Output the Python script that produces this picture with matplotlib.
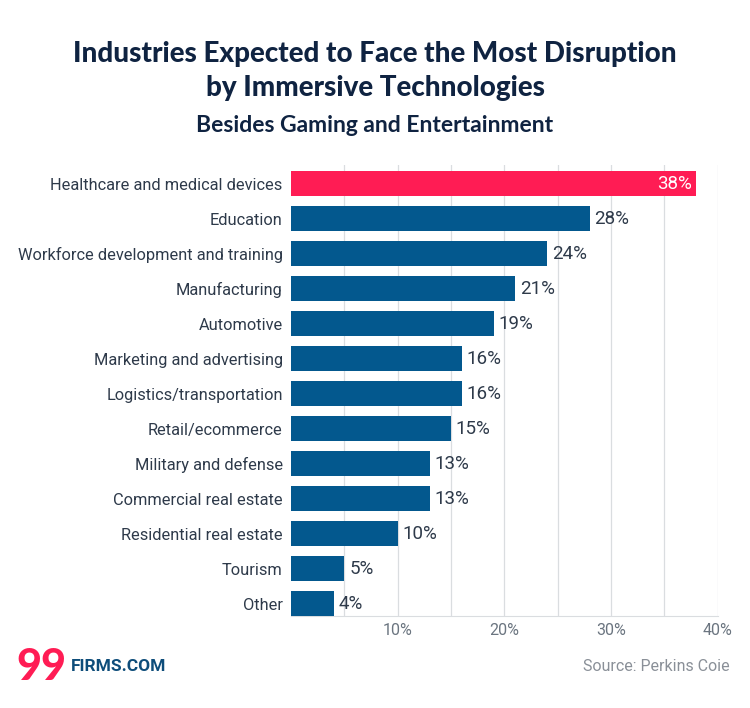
import matplotlib.pyplot as plt
import numpy as np

categories = [
    'Healthcare and medical devices',
    'Education',
    'Workforce development and training',
    'Manufacturing',
    'Automotive',
    'Marketing and advertising',
    'Logistics/transportation',
    'Retail/ecommerce',
    'Military and defense',
    'Commercial real estate',
    'Residential real estate',
    'Tourism',
    'Other',
]
values = [38, 28, 24, 21, 19, 16, 16, 15, 13, 13, 10, 5, 4]
tick_values = [10, 20, 30, 40]
tick_labels = ['10%', '20%', '30%', '40%']

red = '#FF1C54'
blue = '#03588E'
navy = '#0F2341'
text_col = '#2E3A4A'
grey = '#6B7580'

fig = plt.figure(figsize=(7.5, 7.08), dpi=100)
ax = fig.add_axes([0.388, 0.1299, 0.569, 0.637])

y = np.arange(len(categories))
colors = [red] + [blue] * (len(categories) - 1)
ax.barh(y, values, height=0.714, color=colors, zorder=3)

for i, v in enumerate(values):
    if i == 0:
        ax.text(v - 0.45, i, f'{v}%', ha='right', va='center', color='white',
                fontsize=13.5, family='Roboto', zorder=4)
    else:
        ax.text(v + 0.45, i, f'{v}%', ha='left', va='center', color=text_col,
                fontsize=13.5, family='Roboto', zorder=4)

ax.set_xlim(0, 40)
ax.set_ylim(12.357, -0.53)
ax.set_yticks(y)
ax.set_yticklabels(categories, fontsize=11.8, family='Roboto', color=text_col)
ax.set_xticks(tick_values)
ax.set_xticklabels(tick_labels, fontsize=11.5, family='Roboto', color=grey)
ax.set_xticks(np.arange(5, 41, 5), minor=True)
ax.tick_params(axis='both', which='both', length=0)
ax.tick_params(axis='y', pad=6)
ax.tick_params(axis='x', pad=5)
ax.grid(axis='x', which='both', color='#DADDE0', linewidth=0.9, zorder=0)
for s in ['top', 'left', 'right']:
    ax.spines[s].set_visible(False)
ax.spines['bottom'].set_color('#DADDE0')

fig.text(0.5, 0.9, 'Industries Expected to Face the Most Disruption\nby Immersive Technologies',
         ha='center', va='center', fontsize=20, fontweight='black', family='Lato',
         color=navy, linespacing=1.4)
fig.text(0.5, 0.823, 'Besides Gaming and Entertainment', ha='center', va='center',
         fontsize=16.5, fontweight='bold', family='Lato', color=navy)

fig.text(0.022, 0.058, '99', ha='left', va='center', fontsize=31, fontweight='black',
         family='Lato', color=red)
fig.text(0.094, 0.058, 'FIRMS.COM', ha='left', va='center', fontsize=12.5,
         fontweight='bold', family='Roboto', color='#0E4D7A')
fig.text(0.973, 0.058, 'Source: Perkins Coie', ha='right', va='center', fontsize=11.5,
         family='Roboto', color='#8A9098')

fig.savefig('out.png', dpi=100, facecolor='white')
